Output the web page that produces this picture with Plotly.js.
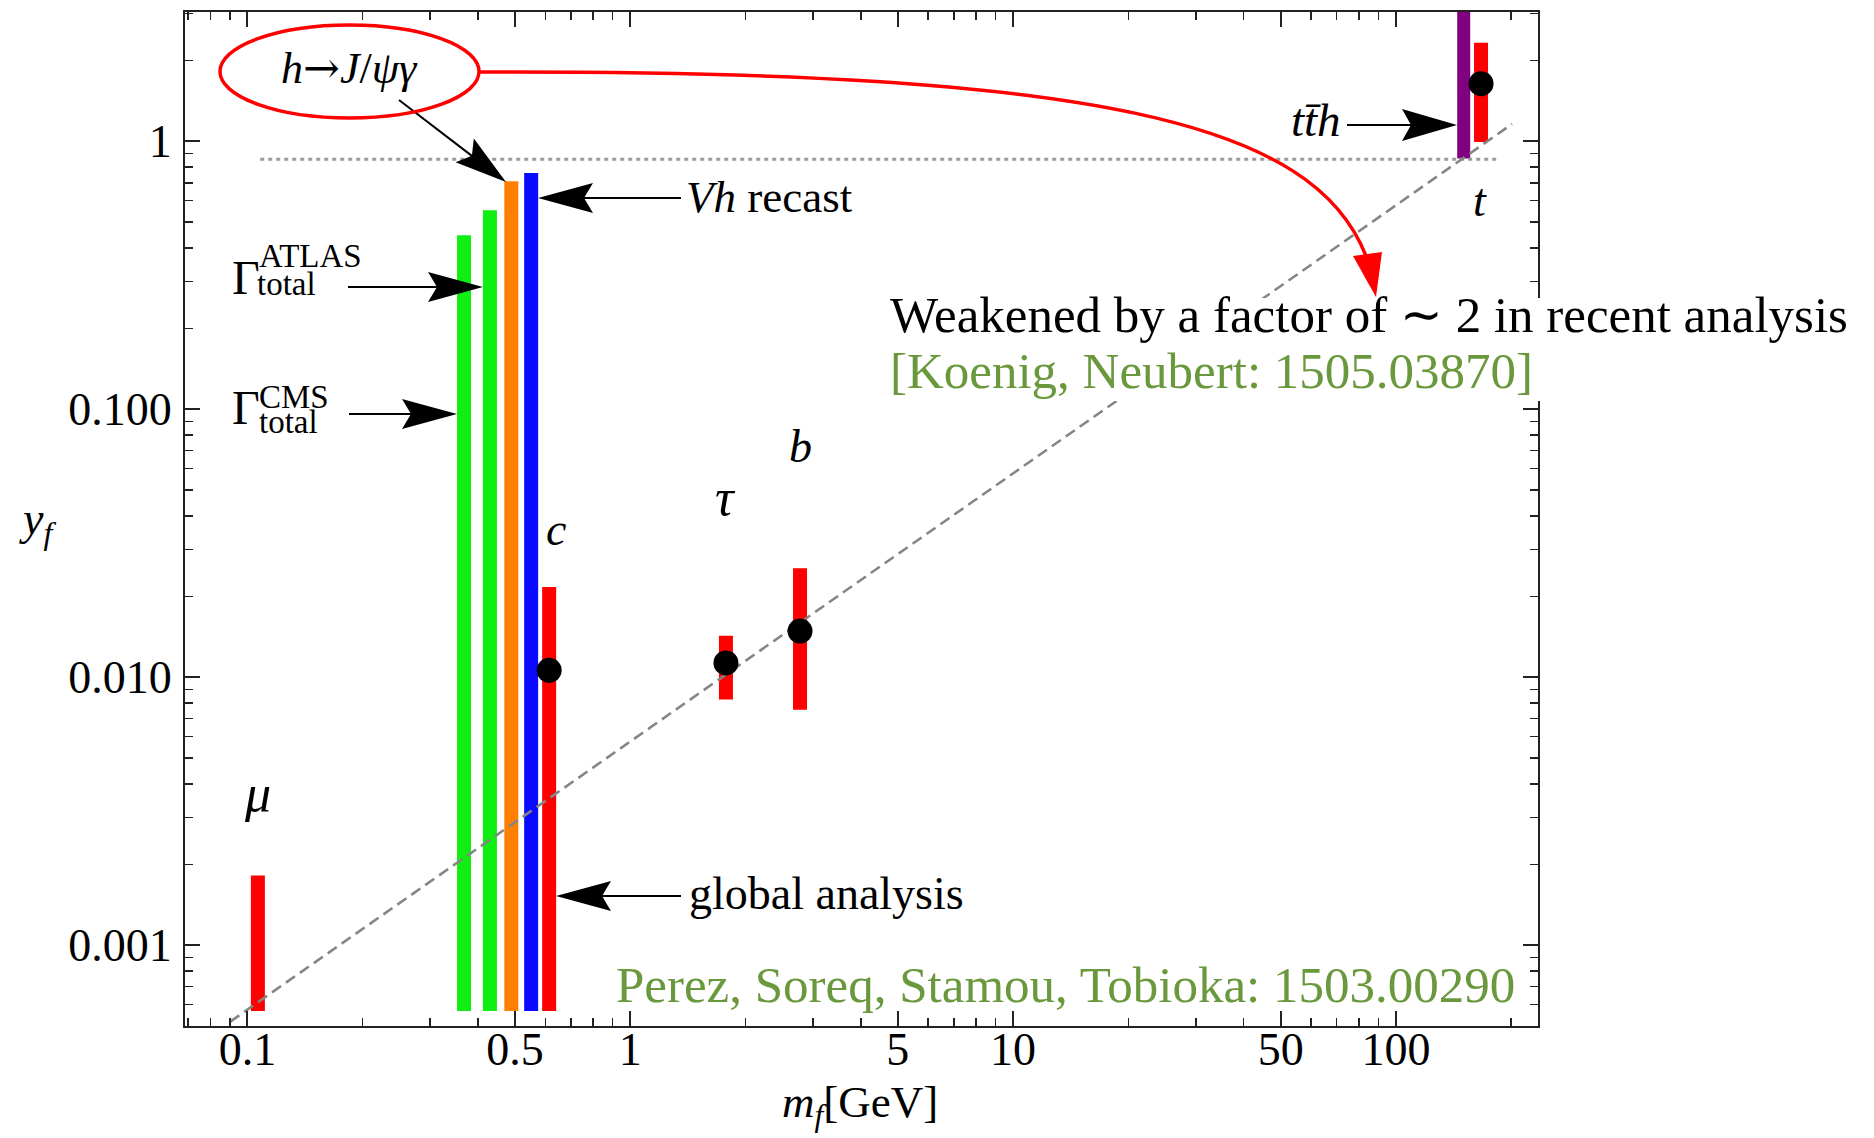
<!DOCTYPE html>
<html><head><meta charset="utf-8">
<script src="https://cdn.plot.ly/plotly-3.0.1.min.js"></script>
<style>html,body{margin:0;padding:0;background:#fff}</style>
</head><body>
<div id="chart" style="width:1874px;height:1138px"></div>
<script>
// ---------------- data ----------------
// fermion Yukawa bounds (red bars) and best-fit points
const fermionLabels = ['μ', 'c', 'τ', 'b', 't'];
const fermionMass   = [0.1065, 0.614, 1.778, 2.776, 166.8];
const fermionYLow   = [0.000568, 0.000568, 0.00825, 0.00755, 0.994];
const fermionYHigh  = [0.00182, 0.0217, 0.01427, 0.0255, 2.33];
const bestFitMass   = [0.614, 1.778, 2.776, 166.8];
const bestFitY      = [0.0106, 0.0113, 0.01486, 1.64];
// other bounds on the charm / top Yukawa
const boundNames = ['Γ_total CMS', 'Γ_total ATLAS', 'h→J/ψγ', 'Vh recast', 'tth'];
const boundMass  = [0.368, 0.430, 0.489, 0.551, 150.3];
const boundYLow  = [0.000568, 0.000568, 0.000568, 0.000568, 0.862];
const boundYHigh = [0.446, 0.553, 0.709, 0.762, 3.5];
// SM line y_f = m_f / 174 GeV (dashed) and reference level (dotted)
const smMass  = [0.0902, 201];
const smY     = [0.000518, 1.16];
const refMass = [0.108, 183.6];
const refY    = [0.857, 0.857];
// axes ticks
const xTickVals = [0.1, 0.5, 1, 5, 10, 50, 100];
const xTickText = ['0.1', '0.5', '1', '5', '10', '50', '100'];
const xMinorVals = [0.07, 0.08, 0.09, 0.2, 0.3, 0.4, 0.6, 0.7, 0.8, 0.9, 2, 3, 4, 6, 7, 8, 9, 20, 30, 40, 60, 70, 80, 90, 200];
const yTickVals = [0.001, 0.01, 0.1, 1];
const yTickText = ['0.001', '0.010', '0.100', '1'];
const yMinorVals = [0.0006, 0.0007, 0.0008, 0.0009, 0.002, 0.003, 0.004, 0.005, 0.006, 0.007, 0.008, 0.009,
                    0.02, 0.03, 0.04, 0.05, 0.06, 0.07, 0.08, 0.09, 0.2, 0.3, 0.4, 0.5, 0.6, 0.7, 0.8, 0.9, 2, 3];

// ---------------- styles ----------------
const boundColors = ['#11ee11', '#11ee11', '#ff8000', '#0a0aff', '#800080'];
const FONT = 'Liberation Serif, Times New Roman, serif';
const GREEN_TXT = '#6a983c';

// ---------------- traces ----------------
const traces = [];
boundMass.forEach((m, i) => {
  traces.push({x: [m, m], y: [boundYLow[i], boundYHigh[i]], mode: 'lines', name: boundNames[i],
    line: {color: boundColors[i], width: i === 4 ? 13 : 14}, hoverinfo: 'skip', showlegend: false});
});
fermionMass.forEach((m, i) => {
  traces.push({x: [m, m], y: [fermionYLow[i], fermionYHigh[i]], mode: 'lines', name: fermionLabels[i],
    line: {color: '#ff0000', width: 14}, hoverinfo: 'skip', showlegend: false});
});
traces.push({x: refMass, y: refY, mode: 'lines', line: {color: '#9a9a9a', width: 3, dash: '4px,4px'}, showlegend: false, hoverinfo: 'skip'});
traces.push({x: smMass, y: smY, mode: 'lines', line: {color: '#858585', width: 2.6, dash: '11px,6px'}, showlegend: false, hoverinfo: 'skip'});
traces.push({x: bestFitMass, y: bestFitY, mode: 'markers', marker: {color: '#000', size: 25}, showlegend: false, hoverinfo: 'skip'});

// ---------------- layout helpers (pixel -> paper) ----------------
const ML = 185, MR = 336, MT = 12, MB = 112, W = 1874, H = 1138;
const PW = W - ML - MR, PH = H - MT - MB;
const X = px => (px - ML) / PW;
const Y = py => (H - MB - py) / PH;

const shapes = [];
function arrow(x0, y0, x1, y1, color, lw, L, HW, N) {
  const dx = x1 - x0, dy = y1 - y0, len = Math.hypot(dx, dy);
  const ux = dx / len, uy = dy / len, nx = -uy, ny = ux;
  const bx = x1 - ux * L, by = y1 - uy * L;
  const kx = bx + ux * N, ky = by + uy * N;
  shapes.push({type: 'path', xref: 'paper', yref: 'paper',
    path: `M${X(x0)},${Y(y0)} L${X(kx)},${Y(ky)}`, line: {color: color, width: lw}});
  shapes.push({type: 'path', xref: 'paper', yref: 'paper',
    path: `M${X(x1)},${Y(y1)} L${X(bx + nx * HW)},${Y(by + ny * HW)} L${X(kx)},${Y(ky)} L${X(bx - nx * HW)},${Y(by - ny * HW)} Z`,
    fillcolor: color, line: {width: 0}});
}
arrow(399, 100, 506, 182, '#000', 2, 52, 15, 9);   // h -> J/psi gamma
arrow(681, 198, 538, 198, '#000', 2, 55, 15, 9);   // Vh recast
arrow(348, 287, 483, 287, '#000', 2, 55, 15, 9);   // ATLAS
arrow(349, 414, 457, 414, '#000', 2, 55, 15, 9);   // CMS
arrow(681, 896, 556, 896, '#000', 2, 55, 15, 9);   // global analysis
arrow(1347, 125, 1457, 125, '#000', 2, 55, 16, 9); // tth

// white box behind the "Weakened ..." note (hides lines and frame there)
shapes.push({type: 'rect', xref: 'paper', yref: 'paper', x0: X(886), x1: X(1866), y0: Y(401), y1: Y(298),
  fillcolor: '#ffffff', line: {width: 0}});

// red ellipse and curved arrow
shapes.push({type: 'circle', xref: 'paper', yref: 'paper', x0: X(220), x1: X(479), y0: Y(118), y1: Y(25),
  line: {color: '#ff0000', width: 3.5}});
shapes.push({type: 'path', xref: 'paper', yref: 'paper',
  path: `M${X(479)},${Y(72)} C${X(1100)},${Y(70)} ${X(1314)},${Y(123)} ${X(1366)},${Y(256)}`,
  line: {color: '#ff0000', width: 3.5}});
shapes.push({type: 'path', xref: 'paper', yref: 'paper',
  path: `M${X(1376)},${Y(297)} L${X(1353)},${Y(256)} L${X(1382)},${Y(252)} Z`,
  fillcolor: '#ff0000', line: {width: 0}});

const annotations = [];
function txt(text, px, py, size, anchor, color) {
  annotations.push({xref: 'paper', yref: 'paper', x: X(px), y: Y(py), text: text, showarrow: false,
    xanchor: anchor || 'center', yanchor: 'middle',
    font: {family: FONT, size: size, color: color || '#000'}});
}
txt('<i>h</i><span style="font-family:DejaVu Serif">→</span><i>J</i>/<i>ψγ</i>', 349, 68, 44);
txt('<i>Vh</i> recast', 684, 197, 45, 'left');
txt('Γ', 230, 277, 48, 'left');
txt('ATLAS', 257, 256, 33, 'left');
txt('total', 255, 284, 33, 'left');
txt('Γ', 230, 407, 48, 'left');
txt('CMS', 257, 397, 33, 'left');
txt('total', 257, 422, 33, 'left');
txt('global analysis', 687, 893, 46, 'left');
txt('<i>tt\u0304h</i>', 1343, 120, 47, 'right');
txt('<i>μ</i>', 257, 793, 52);
txt('<i>c</i>', 556, 529, 46);
txt('<i>τ</i>', 725, 497, 52);
txt('<i>b</i>', 800, 447, 46);
txt('<i>t</i>', 1480, 201, 46);
txt('<i>y<sub>f</sub></i>', 37, 522, 46);
txt('<i>m<sub>f</sub></i>[GeV]', 860, 1105, 45);
txt('Weakened by a factor of ∼ 2 in recent analysis', 888, 315, 51, 'left');
txt('[Koenig, Neubert: 1505.03870]', 888, 371, 51, 'left', GREEN_TXT);
txt('Perez, Soreq, Stamou, Tobioka: 1503.00290', 1517, 985, 51, 'right', GREEN_TXT);

const axisCommon = {
  showline: true, linecolor: '#222', linewidth: 2, mirror: 'allticks',
  ticks: 'inside', ticklen: 15, tickwidth: 2, tickcolor: '#222',
  showgrid: false, zeroline: false, automargin: false,
  tickfont: {family: FONT, size: 46, color: '#000'}
};

const layout = {
  width: W, height: H,
  margin: {l: ML, r: MR, t: MT, b: MB},
  paper_bgcolor: '#fff', plot_bgcolor: '#fff',
  showlegend: false,
  font: {family: FONT},
  xaxis: Object.assign({}, axisCommon, {
    type: 'log', range: [-1.163, 2.371],
    tickmode: 'array', tickvals: xTickVals, ticktext: xTickText, ticklabelstandoff: -18,
    minor: {tickmode: 'array', tickvals: xMinorVals, ticks: 'inside', ticklen: 8, tickwidth: 1.5, tickcolor: '#222', showgrid: false}
  }),
  yaxis: Object.assign({}, axisCommon, {
    type: 'log', range: [-3.302, 0.4825],
    tickmode: 'array', tickvals: yTickVals, ticktext: yTickText, ticklabelstandoff: 2,
    minor: {tickmode: 'array', tickvals: yMinorVals, ticks: 'inside', ticklen: 8, tickwidth: 1.5, tickcolor: '#222', showgrid: false}
  }),
  shapes: shapes,
  annotations: annotations
};

Plotly.newPlot('chart', traces, layout, {displayModeBar: false, staticPlot: true});
</script>
</body></html>
